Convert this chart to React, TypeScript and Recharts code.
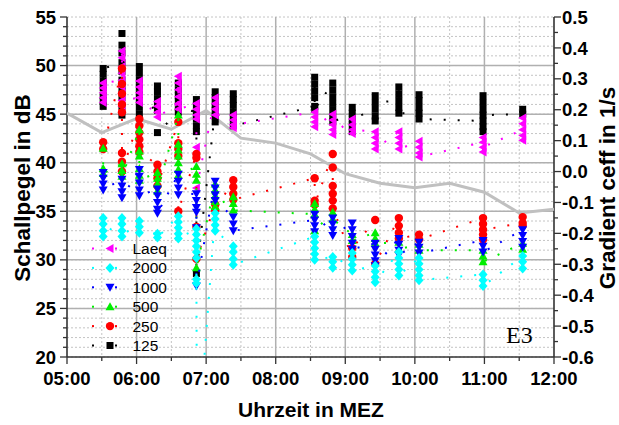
import React from 'react';
import { ComposedChart, Scatter, XAxis, YAxis, CartesianGrid } from 'recharts';

// measurement blocks (decimal hours, MEZ); index 6 is the short 2000 Hz dip
const times = [5.52, 5.79, 6.04, 6.3, 6.6, 6.86, 6.87, 7.13, 7.39, 8.56, 8.82, 9.1, 9.43, 9.77, 10.06, 10.98, 11.55];

const laeq = [
  [46.2, 46.7, 47.2, 47.7, 48.2], [48.5, 49.2, 49.9, 50.8, 51.5, 47.8, 47.1, 45.8, 46.4], [46.7, 47.2, 47.8, 48.4, 46.2],
  [45.2, 45.8, 46.3, 44.7], [46.1, 46.8, 47.5, 48.2, 48.9, 45.5], [46.1, 45.5, 44.9, 44.5, 41.6, 37.4], [],
  [46.7, 46.1, 45.5, 44.9], [44.9, 44.4, 43.6, 43.9], [45.2, 44.7, 44.2, 43.7], [45.0, 44.4, 43.9, 43.4, 42.9],
  [44.5, 43.9, 43.0, 43.4], [43.2, 42.6, 42.0, 41.4], [43.2, 42.6, 42.0, 41.4], [42.2, 41.6, 41.0, 40.6],
  [42.1, 42.6, 41.1, 41.6], [43.4, 44.0, 44.6, 42.8, 42.3],
];
const hz2000 = [
  [34.3, 33.7, 33.0, 32.4], [34.3, 33.7, 33.0, 32.4], [34.0, 33.4, 32.8], [32.7, 32.3], [34.5, 33.9, 33.3, 32.7, 32.2],
  [33.2, 32.6, 32.0, 31.4, 30.8, 30.2, 28.0, 27.6], [10], [34.8, 34.2, 33.6, 33.0], [31.4, 30.8, 30.1, 29.5],
  [32.4, 31.8, 31.2, 30.6, 30.0], [30.3, 29.8, 29.2], [30.7, 30.1, 29.5, 28.9], [29.4, 28.8, 28.2, 27.7],
  [30.8, 30.2, 29.6, 29.0, 28.4], [30.2, 29.6, 29.0, 28.4, 27.9], [28.5, 27.9, 27.3], [30.4, 29.8, 29.1],
];
const hz1000 = [
  [39.0, 38.4, 37.8, 37.2], [38.3, 37.6, 37.0, 36.4], [39.3, 38.6, 37.9, 37.2, 36.6], [37.3, 36.6, 35.9, 35.2, 34.8],
  [38.8, 38.1, 37.4, 36.7], [36.8, 36.1, 35.4, 34.9, 33.3, 27.3], [], [38.1, 37.4, 36.7, 36.1], [34.4, 33.7, 33.0],
  [34.1, 34.7, 33.5, 32.9], [34.3, 33.7, 33.1, 32.5], [33.8, 33.1, 32.4, 31.7, 31.1], [31.7, 31.1, 30.5, 29.9, 29.4],
  [32.2, 31.6, 31.0, 30.5], [31.8, 31.3, 30.7], [32.0, 31.4, 30.8], [33.1, 32.5, 31.9, 31.3],
];
const hz500 = [
  [41.5, 39.4, 38.9], [39.9, 39.2, 38.6], [43.4, 41.2, 40.7, 39.4, 38.7, 38.2], [39.0, 38.4, 37.8, 37.1],
  [44.9, 41.9, 41.3, 40.7, 40.0, 39.3, 38.7], [39.6, 38.8, 38.2, 29.2], [], [37.8, 37.2, 36.6, 36.0, 35.5],
  [36.5, 35.8, 35.1], [34.7, 35.2, 35.8, 33.0], [34.9, 34.2], [32.6, 32.0], [32.8, 32.2, 31.7], [31.8, 31.1],
  [31.6, 31.0], [31.0, 30.4, 29.8], [31.7, 31.1],
];
const hz250 = [
  [42.1, 41.4], [49.7, 48.1, 47.1, 46.0, 45.2, 41.0, 40.1, 39.1], [44.5, 43.8, 43.1, 42.4, 41.7, 41.1],
  [39.8, 39.1, 38.4, 37.6], [44.2, 42.0, 41.4, 40.7, 35.0], [40.9, 40.5, 33.4, 30.1], [], [35.7, 35.1],
  [38.2, 37.5, 36.8, 36.2], [38.4, 36.1, 35.7], [40.9, 39.5, 37.6, 36.8, 36.1, 35.3], [30.3, 31.2], [34.1, 29.6],
  [34.3, 33.5, 32.8, 32.2], [32.6, 32.1], [34.3, 33.7, 32.1, 32.6, 33.1], [33.8, 34.4, 33.5],
];
const hz125 = [
  [45.8, 46.3, 46.9, 47.7, 48.4, 49.1, 49.7], [50.3, 51.3, 52.1, 53.3, 49.4, 48.5, 46.7, 45.8, 44.9, 47.6],
  [47.8, 48.5, 49.2, 49.9, 47.1, 46.4, 45.7, 45.0], [45.9, 46.6, 47.3, 47.9, 45.4, 43.1], [45.2, 46.3, 46.9, 47.5, 48.2, 45.7],
  [45.2, 45.9, 46.5, 44.5, 43.8, 43.2, 28.6], [], [45.4, 46.0, 46.7, 47.3, 44.8, 44.2], [44.5, 45.2, 45.9, 46.5, 47.1, 43.8],
  [45.8, 46.7, 47.4, 48.1, 48.8, 45.5], [48.2, 47.5, 46.8, 46.1, 45.4, 44.7, 44.2], [45.1, 45.7, 43.9, 43.2, 44.5],
  [45.5, 44.8, 44.3, 46.9, 46.2], [46.4, 47.1, 47.8, 45.7, 45.1], [45.1, 45.7, 46.4, 47.0, 44.5],
  [44.3, 45.5, 46.2, 46.9, 43.2, 43.7, 44.9], [45.0, 45.5],
];

// gradient ceff (right axis)
const gradTimes = [5, 5.5, 6, 6.5, 7, 7.5, 8, 8.5, 9, 9.5, 10, 10.5, 11, 11.5, 12];
const gradValues = [0.189, 0.126, 0.171, 0.137, 0.197, 0.108, 0.092, 0.057, -0.007, -0.038, -0.052, -0.038, -0.067, -0.134, -0.122];

const xTicks = [5, 5.5, 6, 6.5, 7, 7.5, 8, 8.5, 9, 9.5, 10, 10.5, 11, 11.5, 12];
const xHours = [6, 7, 8, 9, 10, 11];
const xHalves = [5.5, 6.5, 7.5, 8.5, 9.5, 10.5, 11.5];
const topTicks = [5, 5.25, 5.5, 5.75, 6, 6.25, 6.5, 6.75, 7, 7.25, 7.5, 7.75, 8, 8.25, 8.5, 8.75, 9, 9.25, 9.5, 9.75, 10, 10.25, 10.5, 10.75, 11, 11.25, 11.5, 11.75, 12];
const yTicks = [20, 21, 22, 23, 24, 25, 26, 27, 28, 29, 30, 31, 32, 33, 34, 35, 36, 37, 38, 39, 40, 41, 42, 43, 44, 45, 46, 47, 48, 49, 50, 51, 52, 53, 54, 55];
const yMajor = [25, 30, 35, 40, 45, 50];
const gTicks = [-0.6, -0.55, -0.5, -0.45, -0.4, -0.35, -0.3, -0.25, -0.2, -0.15, -0.1, -0.05, 0, 0.05, 0.1, 0.15, 0.2, 0.25, 0.3, 0.35, 0.4, 0.45, 0.5];

const FONT = '"Liberation Sans", Arial, sans-serif';
const AXIS = '#333';
const TICK_FS = 18.5;

const toPoints = (blocks: number[][]) => blocks.flatMap((vals, i) => vals.map((v) => ({ t: times[i], v })));
const gradData = gradTimes.map((t, i) => ({ t, g: gradValues[i] }));

const series = [
  { name: '125', kind: 'square', color: '#000000', blocks: hz125 },
  { name: 'Laeq', kind: 'left', color: '#ff00ff', blocks: laeq },
  { name: '250', kind: 'circle', color: '#ff0000', blocks: hz250 },
  { name: '500', kind: 'up', color: '#00ee00', blocks: hz500 },
  { name: '1000', kind: 'down', color: '#0000ff', blocks: hz1000 },
  { name: '2000', kind: 'diamond', color: '#00ffff', blocks: hz2000 },
];
const legendOrder = ['Laeq', '2000', '1000', '500', '250', '125'];

function marker(kind: string, x: number, y: number, color: string) {
  switch (kind) {
    case 'square':
      return <rect x={x - 3.5} y={y - 3.5} width={7} height={7} fill={color} />;
    case 'circle':
      return <circle cx={x} cy={y} r={4.2} fill={color} />;
    case 'diamond':
      return <polygon points={`${x},${y - 5} ${x + 4.5},${y} ${x},${y + 5} ${x - 4.5},${y}`} fill={color} />;
    case 'up':
      return <polygon points={`${x},${y - 4.5} ${x + 4.5},${y + 3.5} ${x - 4.5},${y + 3.5}`} fill={color} />;
    case 'down':
      return <polygon points={`${x - 4.5},${y - 3.5} ${x + 4.5},${y - 3.5} ${x},${y + 4.5}`} fill={color} />;
    default:
      return <polygon points={`${x - 4.5},${y} ${x + 3.5},${y - 4.5} ${x + 3.5},${y + 4.5}`} fill={color} />;
  }
}

const LeftTick = (p: any) => {
  const v = p.payload.value;
  const major = v % 5 === 0;
  return (
    <g>
      <line x1={p.x - (major ? 7 : 4)} x2={p.x} y1={p.y} y2={p.y} stroke={AXIS} strokeWidth={1.3} />
      {major && (
        <text x={p.x - 11} y={p.y} dy={6.6} textAnchor="end" fontFamily={FONT} fontWeight="bold" fontSize={TICK_FS} fill="#000">
          {v}
        </text>
      )}
    </g>
  );
};

const RightTick = (p: any) => {
  const v = p.payload.value;
  const major = Math.abs(Math.round(v * 10) - v * 10) < 1e-6;
  return (
    <g>
      <line x1={p.x} x2={p.x + (major ? 7 : 4)} y1={p.y} y2={p.y} stroke={AXIS} strokeWidth={1.3} />
      {major && (
        <text x={p.x + 8} y={p.y} dy={6.6} textAnchor="start" fontFamily={FONT} fontWeight="bold" fontSize={TICK_FS} fill="#000">
          {v.toFixed(1)}
        </text>
      )}
    </g>
  );
};

const BottomTick = (p: any) => {
  const v = p.payload.value;
  const major = Number.isInteger(v);
  return (
    <g>
      <line x1={p.x} x2={p.x} y1={p.y} y2={p.y + (major ? 7 : 4)} stroke={AXIS} strokeWidth={1.3} />
      {major && (
        <text x={p.x} y={p.y + 28} textAnchor="middle" fontFamily={FONT} fontWeight="bold" fontSize={TICK_FS} fill="#000">
          {`${String(v).padStart(2, '0')}:00`}
        </text>
      )}
    </g>
  );
};

const TopTick = (p: any) => {
  const major = Number.isInteger(p.payload.value);
  return <line x1={p.x} x2={p.x} y1={p.y} y2={p.y + (major ? 6 : 3.5)} stroke={AXIS} strokeWidth={1.3} />;
};

export default function App() {
  return (
    <div style={{ position: 'absolute', left: 0, top: 0, width: 619, height: 425, background: '#fff' }}>
      <ComposedChart width={619} height={425} margin={{ top: 17, right: 15, bottom: 38, left: 0 }}>
        <CartesianGrid horizontalValues={yTicks} verticalValues={xHalves} stroke="#c4c4c4" strokeDasharray="2 2" />
        <CartesianGrid horizontalValues={yMajor} verticalValues={xHours} stroke="#b0b0b0" strokeWidth={1.5} />
        <XAxis
          dataKey="t" type="number" domain={[5, 12]} ticks={xTicks} interval={0} height={30}
          tickSize={0} tickMargin={0} tickLine={false} tick={BottomTick}
          axisLine={{ stroke: AXIS, strokeWidth: 1.6 }}
        />
        <XAxis
          xAxisId="top" orientation="top" dataKey="t" type="number" domain={[5, 12]} ticks={topTicks} interval={0} height={0}
          tickSize={0} tickMargin={0} tickLine={false} tick={TopTick}
          axisLine={{ stroke: AXIS, strokeWidth: 1.6 }}
        />
        <YAxis
          dataKey="v" type="number" domain={[20, 55]} ticks={yTicks} interval={0} width={67} allowDataOverflow
          tickSize={0} tickMargin={0} tickLine={false} tick={LeftTick}
          axisLine={{ stroke: AXIS, strokeWidth: 1.6 }}
        />
        <YAxis
          yAxisId="g" orientation="right" dataKey="g" type="number" domain={[-0.6, 0.5]} ticks={gTicks} interval={0} width={50}
          allowDataOverflow tickSize={0} tickMargin={0} tickLine={false} tick={RightTick}
          axisLine={{ stroke: AXIS, strokeWidth: 1.6 }}
        />
        <Scatter
          data={gradData} dataKey="g" yAxisId="g" isAnimationActive={false}
          line={{ stroke: '#c0c0c0', strokeWidth: 3 }} lineJointType="linear"
          shape={() => <g />}
        />
        {series.map((s) => (
          <Scatter
            key={s.name}
            name={s.name}
            data={toPoints(s.blocks)}
            dataKey="v"
            fill={s.color}
            isAnimationActive={false}
            line={{ stroke: s.color, strokeWidth: 2, strokeDasharray: '2 12' }}
            shape={(p: any) => marker(s.kind, p.cx, p.cy, s.color)}
          />
        ))}
      </ComposedChart>
      <svg width={619} height={425} style={{ position: 'absolute', left: 0, top: 0, pointerEvents: 'none' }}>
        <text transform="translate(30,188) rotate(-90)" textAnchor="middle" fontFamily={FONT} fontWeight="bold" fontSize={22.5}>
          Schallpegel in dB
        </text>
        <text transform="translate(615,188) rotate(-90)" textAnchor="middle" fontFamily={FONT} fontWeight="bold" fontSize={22.5}>
          Gradient ceff in 1/s
        </text>
        <text x={311} y={417} textAnchor="middle" fontFamily={FONT} fontWeight="bold" fontSize={21}>
          Uhrzeit in MEZ
        </text>
        <text x={506} y={343} fontFamily='"Liberation Serif", "Times New Roman", serif' fontSize={24}>
          E3
        </text>
        {legendOrder.map((name, i) => {
          const s = series.find((d) => d.name === name)!;
          const cy = 248.5 + i * 19.4;
          return (
            <g key={name}>
              <rect x={92} y={cy - 1} width={2} height={2} fill={s.color} />
              {marker(s.kind, 110, cy, s.color)}
              <rect x={115} y={cy - 1} width={2} height={2} fill={s.color} />
              <text x={132.5} y={cy + 5.5} fontFamily={FONT} fontSize={15.5} fill="#000">
                {name}
              </text>
            </g>
          );
        })}
      </svg>
    </div>
  );
}
